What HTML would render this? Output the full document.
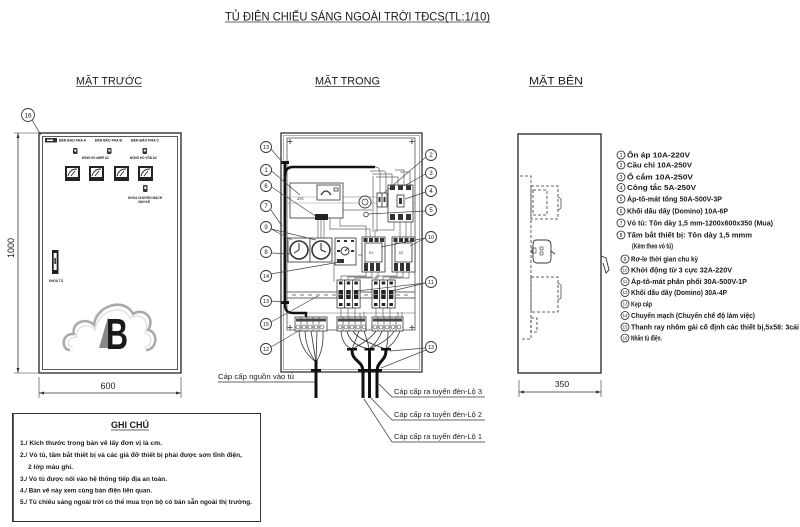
<!DOCTYPE html>
<html><head><meta charset="utf-8"><style>
html,body{margin:0;padding:0;background:#fff;}
svg{display:block;}
text{font-family:"Liberation Sans",Arial,sans-serif;fill:#1a1a1a;}
</style></head><body>
<svg width="800" height="527" viewBox="0 0 800 527" xmlns="http://www.w3.org/2000/svg">
<rect width="800" height="527" fill="#fff"/>

<!-- TITLES -->
<text x="225" y="20.5" font-size="12" textLength="265" lengthAdjust="spacingAndGlyphs">TỦ ĐIỆN CHIẾU SÁNG NGOÀI TRỜI TĐCS(TL:1/10)</text>
<line x1="225" y1="22" x2="490" y2="22" stroke="#333" stroke-width="0.8"/>
<text x="76" y="84.5" font-size="11" textLength="66" lengthAdjust="spacingAndGlyphs">MẶT TRƯỚC</text>
<line x1="76" y1="86.5" x2="142" y2="86.5" stroke="#333" stroke-width="0.8"/>
<text x="315" y="84.5" font-size="11" textLength="65" lengthAdjust="spacingAndGlyphs">MẶT TRONG</text>
<line x1="315" y1="86.5" x2="380" y2="86.5" stroke="#333" stroke-width="0.8"/>
<text x="529" y="84.5" font-size="11" textLength="54" lengthAdjust="spacingAndGlyphs">MẶT BÊN</text>
<line x1="529" y1="86.5" x2="583" y2="86.5" stroke="#333" stroke-width="0.8"/>

<!-- ============ FRONT VIEW ============ -->
<g stroke="#333" fill="none">
  <rect x="39" y="133" width="142" height="240" stroke-width="1.4"/>
  <rect x="42.5" y="136.5" width="135" height="233" stroke-width="0.8"/>
  <line x1="18" y1="133" x2="18" y2="373" stroke-width="0.8"/>
  <line x1="14" y1="133" x2="38" y2="133" stroke-width="0.6"/>
  <line x1="14" y1="373" x2="38" y2="373" stroke-width="0.6"/>
  <line x1="39" y1="393" x2="181" y2="393" stroke-width="0.8"/>
  <line x1="39" y1="377" x2="39" y2="398" stroke-width="0.6"/>
  <line x1="181" y1="377" x2="181" y2="398" stroke-width="0.6"/>
  <circle cx="28" cy="115" r="6.5" stroke-width="0.9"/>
  <line x1="32" y1="120" x2="41" y2="135" stroke-width="0.7"/>
</g>
<path d="M18,133 l-1.5,5 h3 z M18,373 l-1.5,-5 h3 z M39,393 l5,-1.5 v3 z M181,393 l-5,-1.5 v3 z" fill="#333"/>
<text x="28" y="117.5" font-size="6.5" text-anchor="middle">16</text>
<text transform="translate(14,248) rotate(-90)" font-size="9" text-anchor="middle">1000</text>
<text x="108" y="389" font-size="9" text-anchor="middle">600</text>

<rect x="45" y="138" width="12" height="4.5" fill="#333"/>
<rect x="47" y="139.5" width="6" height="1.5" fill="#fff"/>
<g font-size="3.4" font-weight="bold">
  <text x="59" y="141.5" textLength="27" lengthAdjust="spacingAndGlyphs">ĐÈN BÁO PHA A</text>
  <text x="95" y="141.5" textLength="27" lengthAdjust="spacingAndGlyphs">ĐÈN BÁO PHA B</text>
  <text x="131" y="141.5" textLength="28" lengthAdjust="spacingAndGlyphs">ĐÈN BÁO PHA C</text>
  <text x="82" y="159" textLength="27" lengthAdjust="spacingAndGlyphs">ĐỒNG HỒ AMPE AC</text>
  <text x="130" y="159" textLength="27" lengthAdjust="spacingAndGlyphs">ĐỒNG HỒ VÔN AC</text>
  <text x="128" y="199" textLength="34" lengthAdjust="spacingAndGlyphs">KHÓA CHUYỂN MẠCH</text>
  <text x="138" y="203" textLength="12" lengthAdjust="spacingAndGlyphs">VAN KẾ</text>
  <text x="49" y="282" textLength="14" lengthAdjust="spacingAndGlyphs">KHOÁ TỦ</text>
</g>
<g fill="#333">
  <rect x="73" y="148" width="4.5" height="6" rx="1"/>
  <rect x="107" y="148" width="4.5" height="6" rx="1"/>
  <rect x="142.5" y="148" width="4.5" height="6" rx="1"/>
  <rect x="143" y="185" width="4.5" height="7" rx="1"/>
</g>
<g fill="#fff"><rect x="74.3" y="149.5" width="2" height="2"/><rect x="108.3" y="149.5" width="2" height="2"/><rect x="143.8" y="149.5" width="2" height="2"/><rect x="144.3" y="186.5" width="2" height="2.5"/></g>
<g>
  <rect x="65" y="166" width="15" height="15" fill="#222"/><rect x="67" y="168" width="11" height="9" fill="#fff"/>
  <rect x="89" y="166" width="15" height="15" fill="#222"/><rect x="91" y="168" width="11" height="9" fill="#fff"/>
  <rect x="114" y="166" width="15" height="15" fill="#222"/><rect x="116" y="168" width="11" height="9" fill="#fff"/>
  <rect x="138" y="166" width="15" height="15" fill="#222"/><rect x="140" y="168" width="11" height="9" fill="#fff"/>
</g>
<g stroke="#222" stroke-width="0.9" fill="none">
  <path d="M68,176 Q70,169 77,169"/><path d="M92,176 Q94,169 101,169"/><path d="M117,176 Q119,169 126,169"/><path d="M141,176 Q143,169 150,169"/>
  <path d="M71,176 L75,171"/><path d="M95,176 L99,171"/><path d="M120,176 L124,171"/><path d="M144,176 L148,171"/>
</g>
<rect x="52" y="250" width="6.5" height="24" fill="#222"/>
<rect x="53.7" y="253" width="3" height="17" fill="#fff"/>
<rect x="54.3" y="258" width="1.8" height="6" fill="#444"/>
<path d="M70,350 C61,350 61,333 74,334 C71,322 87,317 94,325 C96,305 125,297 133,314 C143,307 156,318 148,330 C159,332 157,350 146,350" fill="none" stroke="#aaa" stroke-width="2.6"/>
<path d="M73,347 C66,347 66,337 77,337 C75,326 88,322 95,330 C98,310 123,303 130,318 C140,312 151,320 145,333 C153,335 153,347 144,347" fill="none" stroke="#ddd" stroke-width="1.2"/>
<polygon points="99,348 108,317 110,348" fill="#888"/>
<text x="106" y="349" font-size="44" font-weight="bold" textLength="22" lengthAdjust="spacingAndGlyphs" fill="#1c1c1c">B</text>

<!-- ============ INSIDE VIEW ============ -->
<g stroke="#333" fill="none">
  <rect x="281" y="133" width="141" height="239" stroke-width="1.3"/>
  <rect x="283.5" y="135.5" width="136" height="234" stroke-width="0.6" stroke="#777"/>
  <rect x="287" y="138" width="128" height="192" stroke-width="0.8" stroke="#555"/>
  <g stroke-width="0.8">
    <path d="M290,139 v5 M287.5,141.5 h5 M412,139 v5 M409.5,141.5 h5 M290,325 v5 M287.5,327.5 h5 M412,325 v5 M409.5,327.5 h5"/>
  </g>
  <line x1="287" y1="197" x2="415" y2="197" stroke="#777" stroke-width="0.6"/>
  <line x1="287" y1="203" x2="415" y2="203" stroke="#777" stroke-width="0.6"/>
  <line x1="287" y1="292" x2="415" y2="292" stroke-width="0.7"/>
  <line x1="287" y1="298" x2="415" y2="298" stroke-width="0.7"/>
  <line x1="292" y1="295" x2="412" y2="295" stroke="#777" stroke-width="1" stroke-dasharray="4 4"/>
  <line x1="287" y1="313" x2="415" y2="313" stroke-width="0.6" stroke="#666"/>
  <g stroke="#666" stroke-width="0.7">
    <path d="M375,167 Q380,167 380,173 L380,193"/>
    <path d="M370,171 L384,171 Q386,171 386,176 L386,193"/>
    <path d="M372,174 L392,174 L392,185"/>
    <path d="M376,177 L398,177 L398,185"/>
    <path d="M395,170 L404,170 L404,185"/>
    <path d="M400,172 L410,172 L410,185"/>
    <path d="M373,176 L373,232"/><path d="M377,207 L377,232"/>
    <path d="M343,210 L372,210"/>
    <path d="M318,220 L318,238 M321,220 L321,238 M324,220 L324,238"/>
    <path d="M340,218 L340,226 L366,226 L366,237"/>
    <path d="M330,218 L330,229 L370,229 L370,237"/>
    <path d="M394,222 L394,230 L375,230 L375,237"/>
    <path d="M400,222 L400,237 M406,222 L406,237 M411,222 L411,237"/>
    <path d="M366,272 L366,276 L341,276 L341,280"/>
    <path d="M372,272 L372,277 L348,277 L348,280"/>
    <path d="M378,272 L378,278 L355,278 L355,280"/>
    <path d="M397,272 L397,276 L376,276 L376,280"/>
    <path d="M403,272 L403,277 L383,277 L383,280"/>
    <path d="M409,272 L409,278 L390,278 L390,280"/>
    <path d="M341,308 L341,317 M348,308 L348,317 M355,308 L355,317 M376,308 L376,317 M383,308 L383,317 M390,308 L390,317"/>
    <path d="M360,317 L360,313 M364,317 L364,312 M398,317 L398,312 M402,317 L402,312"/>
    <path d="M334,262 L334,282 M362,255 L358,255"/>
  </g>
  <g stroke="#333" stroke-width="0.8">
    <path d="M299,331 Q300,350 316,362"/><path d="M305,331 Q306,350 316,362"/><path d="M311,331 L316,362"/><path d="M317,331 L316,362"/><path d="M323,331 Q324,350 316,362"/>
    <path d="M341,331 Q342,345 352,349"/><path d="M347,331 Q350,345 369,349"/><path d="M353,331 Q358,340 386,349"/><path d="M359,331 Q355,342 352,349"/><path d="M364,331 Q368,342 369,349"/>
    <path d="M376,331 Q370,340 352,349"/><path d="M382,331 Q378,342 369,349"/><path d="M388,331 Q388,342 386,349"/><path d="M394,331 Q390,340 369,349"/><path d="M400,331 Q396,342 386,349"/>
  </g>
</g>
<g stroke="#111" fill="none" stroke-width="2.4">
  <path d="M285,162 L285,305 Q285,313 293,313 L306,313 L306,318"/>
  <path d="M285,176 Q285,167 293,167 L375,167"/>
</g>
<rect x="281" y="161" width="8" height="3" fill="#111"/>
<rect x="281" y="301" width="8" height="3" fill="#111"/>

<g stroke="#333" fill="#fff" stroke-width="0.8">
  <rect x="290" y="183" width="53" height="35"/>
  <rect x="317" y="185" width="23" height="15"/>
  <rect x="334" y="188" width="4" height="3"/>
</g>
<path d="M321,195 Q326,187 331,195" fill="none" stroke="#333" stroke-width="1.3"/>
<line x1="290" y1="197" x2="317" y2="197" stroke="#999" stroke-width="0.5"/>
<line x1="290" y1="203" x2="343" y2="203" stroke="#999" stroke-width="0.5"/>
<text x="297" y="200" font-size="3.5">ATS</text>
<rect x="315" y="214" width="13" height="6" fill="#222"/>
<circle cx="365" cy="202" r="6" fill="#fff" stroke="#333" stroke-width="0.9"/>
<circle cx="365" cy="202" r="3" fill="none" stroke="#333" stroke-width="0.7"/>
<circle cx="366" cy="214.5" r="2.3" fill="#fff" stroke="#333" stroke-width="0.8"/>
<g stroke="#333" fill="#fff" stroke-width="0.8">
  <rect x="377" y="193" width="5" height="14"/><rect x="382" y="193" width="5" height="14"/>
  <rect x="388" y="185" width="25" height="37"/>
  <rect x="397" y="195" width="7" height="12"/>
</g>
<g fill="#333">
  <rect x="390" y="185.5" width="5" height="4.5"/><rect x="398" y="185.5" width="5" height="4.5"/><rect x="406" y="185.5" width="5" height="4.5"/>
  <rect x="390" y="214" width="5" height="6"/><rect x="398" y="214" width="5" height="6"/><rect x="406" y="214" width="5" height="6"/>
  <rect x="399" y="198" width="3" height="6"/>
  <rect x="378.5" y="197" width="2" height="5"/><rect x="383.5" y="197" width="2" height="5"/>
</g>
<g stroke="#333" stroke-width="0.8" fill="#fff">
  <rect x="288" y="238" width="22" height="24"/>
  <rect x="310" y="238" width="22" height="24"/>
  <circle cx="299" cy="250" r="9" stroke-width="1.6"/>
  <circle cx="321" cy="250" r="9" stroke-width="1.6"/>
  <rect x="335" y="238" width="21" height="27"/>
  <rect x="362" y="237" width="23" height="35"/>
  <rect x="392" y="237" width="23" height="35"/>
  <rect x="365" y="243" width="17" height="19"/>
  <rect x="395" y="243" width="17" height="19"/>
</g>
<g stroke="#222" stroke-width="1" fill="none">
  <path d="M299,250 L299,243 M299,250 L294,253"/>
  <path d="M321,250 L321,243 M321,250 L326,252"/>
</g>
<circle cx="345" cy="251" r="4" fill="#fff" stroke="#333" stroke-width="1"/>
<path d="M345,251 L348,248" stroke="#222" stroke-width="1"/>
<g fill="#333">
  <rect x="337" y="240" width="3" height="2"/><rect x="344" y="240" width="3" height="2"/><rect x="351" y="240" width="3" height="2"/>
  <rect x="337" y="259" width="7" height="4"/><rect x="337" y="250" width="3" height="2"/><rect x="351" y="250" width="3" height="2"/>
  <rect x="363.5" y="238" width="4" height="4"/><rect x="369" y="238" width="4" height="4"/><rect x="374.5" y="238" width="4" height="4"/><rect x="380" y="238" width="4" height="4"/>
  <rect x="393.5" y="238" width="4" height="4"/><rect x="399" y="238" width="4" height="4"/><rect x="404.5" y="238" width="4" height="4"/><rect x="410" y="238" width="4" height="4"/>
  <rect x="364" y="263" width="4" height="8"/><rect x="370" y="263" width="4" height="8"/><rect x="376" y="263" width="4" height="8"/>
  <rect x="394" y="263" width="4" height="8"/><rect x="400" y="263" width="4" height="8"/><rect x="406" y="263" width="4" height="8"/>
</g>
<text x="369" y="254" font-size="3.5">K1</text>
<text x="399" y="254" font-size="3.5">K2</text>
<g stroke="#333" stroke-width="0.8" fill="#fff">
  <rect x="337" y="280" width="7.7" height="28"/><rect x="344.7" y="280" width="7.7" height="28"/><rect x="352.4" y="280" width="7.7" height="28"/>
  <rect x="372" y="280" width="7.7" height="28"/><rect x="379.7" y="280" width="7.7" height="28"/><rect x="387.4" y="280" width="7.7" height="28"/>
</g>
<g fill="#222">
  <rect x="338.5" y="290" width="4.5" height="9"/><rect x="346.2" y="290" width="4.5" height="9"/><rect x="353.9" y="290" width="4.5" height="9"/>
  <rect x="373.5" y="290" width="4.5" height="9"/><rect x="381.2" y="290" width="4.5" height="9"/><rect x="388.9" y="290" width="4.5" height="9"/>
  <rect x="339" y="281.5" width="3.5" height="3"/><rect x="346.7" y="281.5" width="3.5" height="3"/><rect x="354.4" y="281.5" width="3.5" height="3"/>
  <rect x="374" y="281.5" width="3.5" height="3"/><rect x="381.7" y="281.5" width="3.5" height="3"/><rect x="389.4" y="281.5" width="3.5" height="3"/>
  <rect x="339" y="303" width="3.5" height="3"/><rect x="346.7" y="303" width="3.5" height="3"/><rect x="354.4" y="303" width="3.5" height="3"/>
  <rect x="374" y="303" width="3.5" height="3"/><rect x="381.7" y="303" width="3.5" height="3"/><rect x="389.4" y="303" width="3.5" height="3"/>
</g>
<g fill="#fff" stroke="#fff" stroke-width="0.5">
  <line x1="339" y1="294.5" x2="342.5" y2="294.5"/><line x1="346.7" y1="294.5" x2="350.2" y2="294.5"/><line x1="354.4" y1="294.5" x2="357.9" y2="294.5"/>
  <line x1="374" y1="294.5" x2="377.5" y2="294.5"/><line x1="381.7" y1="294.5" x2="385.2" y2="294.5"/><line x1="389.4" y1="294.5" x2="392.9" y2="294.5"/>
</g>
<g stroke="#333" stroke-width="0.8" fill="#fff">
  <rect x="295" y="317" width="32" height="14"/>
  <rect x="337" y="317" width="29" height="14"/>
  <rect x="372" y="317" width="31" height="14"/>
</g>
<g stroke="#333" stroke-width="0.6" fill="none">
  <path d="M301,317 v14 M307,317 v14 M313,317 v14 M319,317 v14 M343,317 v14 M349,317 v14 M355,317 v14 M361,317 v14 M378,317 v14 M384,317 v14 M390,317 v14 M396,317 v14"/>
  <circle cx="298" cy="327" r="2"/><circle cx="304" cy="327" r="2"/><circle cx="310" cy="327" r="2"/><circle cx="316" cy="327" r="2"/><circle cx="322" cy="327" r="2"/>
  <circle cx="340" cy="327" r="2"/><circle cx="346" cy="327" r="2"/><circle cx="352" cy="327" r="2"/><circle cx="358" cy="327" r="2"/><circle cx="364" cy="327" r="2"/>
  <circle cx="375" cy="327" r="2"/><circle cx="381" cy="327" r="2"/><circle cx="387" cy="327" r="2"/><circle cx="393" cy="327" r="2"/><circle cx="399" cy="327" r="2"/>
</g>
<g fill="#444">
  <rect x="296" y="318.5" width="30" height="3"/><rect x="338" y="318.5" width="27" height="3"/><rect x="373" y="318.5" width="29" height="3"/>
</g>
<g stroke="#111" fill="none" stroke-width="3">
  <path d="M316,360 L316,398"/>
  <path d="M352,350 C352,362 363,360 363,372 L363,398"/>
  <path d="M369.5,350 L369.5,398"/>
  <path d="M386,350 C386,362 377,360 377,372 L377,398"/>
</g>
<g fill="#111">
  <rect x="347" y="348" width="10" height="2.5"/><rect x="364.5" y="348" width="10" height="2.5"/><rect x="381" y="348" width="10" height="2.5"/>
  <rect x="311" y="369" width="10" height="2.5"/><rect x="358" y="369" width="24" height="2.5"/>
</g>

<g stroke="#444" stroke-width="0.7" fill="none">
  <path d="M271,149 L283,163"/>
  <path d="M271.5,171 L300,195"/>
  <path d="M271.5,187 L317,217"/>
  <path d="M271,210 L282,226"/>
  <path d="M271,229 L292,240 M271,229 L316,240"/>
  <path d="M271.5,253 L290,254"/>
  <path d="M271,274 L340,262"/>
  <path d="M271.5,301 L283,302"/>
  <path d="M271,322 L318,296"/>
  <path d="M271,347 L300,330"/>
  <path d="M426,157 L384,193"/>
  <path d="M425.5,174 L404,186"/>
  <path d="M425.5,192 L405,199"/>
  <path d="M425.5,211 L368,214"/>
  <path d="M425.5,238 L381,247 M425.5,238 L410,246"/>
  <path d="M425.5,283 L357,291 M425.5,283 L392,291"/>
  <path d="M425.5,348 L390,351 M426,350 L381,368"/>
</g>
<g stroke="#333" stroke-width="0.9" fill="#fff">
  <circle cx="266" cy="147" r="5.5"/><circle cx="266" cy="170" r="5.5"/><circle cx="266" cy="186" r="5.5"/><circle cx="266" cy="206" r="5.5"/><circle cx="266" cy="227" r="5.5"/><circle cx="266" cy="252" r="5.5"/><circle cx="266" cy="276" r="5.5"/><circle cx="266" cy="301" r="5.5"/><circle cx="266" cy="324" r="5.5"/><circle cx="266" cy="349" r="5.5"/>
  <circle cx="431" cy="155" r="5.5"/><circle cx="431" cy="173" r="5.5"/><circle cx="431" cy="191" r="5.5"/><circle cx="431" cy="210" r="5.5"/><circle cx="431" cy="237" r="5.5"/><circle cx="431" cy="282" r="5.5"/><circle cx="431" cy="347" r="5.5"/>
</g>
<g font-size="6" text-anchor="middle">
  <text x="266" y="149.2" font-size="5.5">13</text><text x="266" y="172.2">1</text><text x="266" y="188.2">6</text><text x="266" y="208.2">7</text><text x="266" y="229.2">9</text><text x="266" y="254.2">8</text><text x="266" y="278.2" font-size="5.5">14</text><text x="266" y="303.2" font-size="5.5">13</text><text x="266" y="326.2" font-size="5.5">15</text><text x="266" y="351.2" font-size="5.5">12</text>
  <text x="431" y="157.2">2</text><text x="431" y="175.2">3</text><text x="431" y="193.2">4</text><text x="431" y="212.2">5</text><text x="431" y="239.2" font-size="5.5">10</text><text x="431" y="284.2" font-size="5.5">11</text><text x="431" y="349.2" font-size="5.5">13</text>
</g>

<g stroke="#333" stroke-width="0.7" fill="none">
  <line x1="218" y1="382" x2="315" y2="382"/>
  <line x1="392" y1="397" x2="485" y2="397"/>
  <line x1="392" y1="420" x2="485" y2="420"/>
  <line x1="392" y1="442" x2="485" y2="442"/>
  <path d="M379,384 L392,397"/>
  <path d="M371,398 L392,420"/>
  <path d="M364,399 L392,442"/>
</g>
<g font-size="7.5">
  <text x="218" y="379" textLength="76" lengthAdjust="spacingAndGlyphs">Cáp cấp nguồn vào tủ</text>
  <text x="394" y="394" textLength="88" lengthAdjust="spacingAndGlyphs">Cáp cấp ra tuyến đèn-Lộ 3</text>
  <text x="394" y="417" textLength="88" lengthAdjust="spacingAndGlyphs">Cáp cấp ra tuyến đèn-Lộ 2</text>
  <text x="394" y="439" textLength="88" lengthAdjust="spacingAndGlyphs">Cáp cấp ra tuyến đèn-Lộ 1</text>
</g>

<!-- ============ SIDE VIEW ============ -->
<g stroke="#333" fill="none">
  <rect x="518" y="134" width="83" height="239" stroke-width="1.4"/>
  <g stroke-dasharray="3 2" stroke-width="0.8">
    <path d="M520,176 L531,176 L531,339 L520,339"/>
    <rect x="531" y="186" width="27" height="33"/>
    <rect x="533" y="190" width="14" height="25"/>
    <rect x="531" y="277" width="27" height="35"/>
    <rect x="531" y="318" width="6" height="14"/>
  </g>
  <path d="M558,197 L561,199 L561,208 L558,210" stroke-width="0.7"/>
  <path d="M558,283 L561,285 L561,298 L558,300" stroke-width="0.7"/>
  <path d="M536,240 Q533,240 533,245 L533,258 Q533,263 537,263 L547,263 Q551,263 551,258 L551,245 Q551,240 546,240 Z" stroke-width="0.9"/>
  <rect x="540" y="247" width="3" height="3" stroke-width="0.6"/><rect x="540" y="252" width="3" height="3" stroke-width="0.6"/>
  <rect x="532" y="248" width="4" height="5" stroke-width="0.6"/>
  <path d="M551,251 L555,254" stroke-width="0.8"/>
  <path d="M601,256 L606,258 L609,270 L606,273 L603,263" stroke-width="0.9"/>
  <line x1="519" y1="392" x2="601" y2="392" stroke-width="0.8"/>
  <line x1="519" y1="380" x2="519" y2="397" stroke-width="0.6"/>
  <line x1="601" y1="380" x2="601" y2="397" stroke-width="0.6"/>
</g>
<path d="M519,392 l5,-1.5 v3 z M601,392 l-5,-1.5 v3 z" fill="#333"/>
<text x="562" y="387" font-size="8.5" text-anchor="middle">350</text>

<!-- ============ LEGEND ============ -->
<g stroke="#222" stroke-width="0.8" fill="#fff">
  <circle cx="621" cy="155" r="4"/><circle cx="621" cy="165" r="4"/><circle cx="621" cy="177" r="4"/><circle cx="621" cy="187.5" r="4"/><circle cx="621" cy="199" r="4"/><circle cx="621" cy="211" r="4"/><circle cx="621" cy="223" r="4"/><circle cx="621" cy="235" r="4"/>
  <circle cx="625" cy="259" r="4"/><circle cx="625" cy="270" r="4"/><circle cx="625" cy="281.5" r="4"/><circle cx="625" cy="292.5" r="4"/><circle cx="625" cy="304" r="4"/><circle cx="625" cy="315.5" r="4"/><circle cx="625" cy="327" r="4"/><circle cx="625" cy="338" r="4"/>
</g>
<g font-size="5" text-anchor="middle">
  <text x="621" y="156.8">1</text><text x="621" y="166.8">2</text><text x="621" y="178.8">3</text><text x="621" y="189.3">4</text><text x="621" y="200.8">5</text><text x="621" y="212.8">6</text><text x="621" y="224.8">7</text><text x="621" y="236.8">8</text>
  <text x="625" y="260.8">9</text><text x="625" y="271.7" font-size="4.3">10</text><text x="625" y="283.2" font-size="4.3">11</text><text x="625" y="294.2" font-size="4.3">12</text><text x="625" y="305.7" font-size="4.3">13</text><text x="625" y="317.2" font-size="4.3">14</text><text x="625" y="328.7" font-size="4.3">15</text><text x="625" y="339.7" font-size="4.3">16</text>
</g>
<g font-size="7" font-weight="bold" fill="#222">
  <text x="627" y="157.5" textLength="63" lengthAdjust="spacingAndGlyphs">Ổn áp 10A-220V</text>
  <text x="627" y="167.5" textLength="65" lengthAdjust="spacingAndGlyphs">Cầu chì 10A-250V</text>
  <text x="627" y="179.5" textLength="66" lengthAdjust="spacingAndGlyphs">Ổ cắm 10A-250V</text>
  <text x="627" y="190" textLength="69" lengthAdjust="spacingAndGlyphs">Công tắc 5A-250V</text>
  <text x="627" y="201.5" textLength="95" lengthAdjust="spacingAndGlyphs">Áp-tô-mát tổng 50A-500V-3P</text>
  <text x="627" y="213.5" textLength="101" lengthAdjust="spacingAndGlyphs">Khối dấu dây (Domino) 10A-6P</text>
  <text x="627" y="225.5" textLength="146" lengthAdjust="spacingAndGlyphs">Vỏ tủ: Tôn dày 1,5 mm-1200x600x350 (Mua)</text>
  <text x="627" y="237.5" textLength="125" lengthAdjust="spacingAndGlyphs">Tấm bắt thiết bị: Tôn dày 1,5 mmm</text>
  <text x="632" y="248.5" textLength="41" lengthAdjust="spacingAndGlyphs">(Kèm theo vỏ tủ)</text>
  <text x="631" y="261.5" textLength="67" lengthAdjust="spacingAndGlyphs">Rơ-le thời gian chu kỳ</text>
  <text x="631" y="272.5" textLength="101" lengthAdjust="spacingAndGlyphs">Khởi động từ 3 cực 32A-220V</text>
  <text x="631" y="284" textLength="116" lengthAdjust="spacingAndGlyphs">Áp-tô-mát phân phối 30A-500V-1P</text>
  <text x="631" y="295" textLength="96" lengthAdjust="spacingAndGlyphs">Khối dấu dây (Domino) 30A-4P</text>
  <text x="631" y="306.5" textLength="21" lengthAdjust="spacingAndGlyphs">Kẹp cáp</text>
  <text x="631" y="318" textLength="124" lengthAdjust="spacingAndGlyphs">Chuyển mạch (Chuyển chế độ làm việc)</text>
  <text x="631" y="329.5" textLength="168" lengthAdjust="spacingAndGlyphs">Thanh ray nhôm gài cố định các thiết bị,5x58: 3cái</text>
  <text x="631" y="340.5" textLength="31" lengthAdjust="spacingAndGlyphs">Nhãn tủ điện.</text>
</g>

<!-- ============ NOTES ============ -->
<rect x="12.5" y="413.5" width="248" height="108" fill="none" stroke="#333" stroke-width="1"/>
<line x1="13" y1="414" x2="13" y2="521" stroke="#333" stroke-width="1.6"/>
<text x="111" y="428" font-size="9" font-weight="bold" textLength="38" lengthAdjust="spacingAndGlyphs">GHI CHÚ</text>
<line x1="111" y1="430" x2="149" y2="430" stroke="#333" stroke-width="0.7"/>
<g font-size="6.6" font-weight="bold" fill="#222">
  <text x="20" y="445" textLength="142" lengthAdjust="spacingAndGlyphs">1./ Kích thước trong bản vẽ  lấy đơn vị là cm.</text>
  <text x="20" y="457" textLength="222" lengthAdjust="spacingAndGlyphs">2./ Vỏ tủ, tấm bắt thiết bị và các giá đỡ thiết bị phải được sơn tĩnh điện,</text>
  <text x="28" y="469" textLength="45" lengthAdjust="spacingAndGlyphs">2 lớp màu ghi.</text>
  <text x="20" y="481" textLength="147" lengthAdjust="spacingAndGlyphs">3./ Vỏ tủ được nối vào hệ thống tiếp địa an toàn.</text>
  <text x="20" y="492.5" textLength="132" lengthAdjust="spacingAndGlyphs">4./ Bản vẽ này xem cùng bản điện liên quan.</text>
  <text x="20" y="504" textLength="232" lengthAdjust="spacingAndGlyphs">5./ Tủ chiếu sáng ngoài trời có thể mua trọn bộ có bán sẵn ngoài thị trường.</text>
</g>
</svg>
</body></html>
